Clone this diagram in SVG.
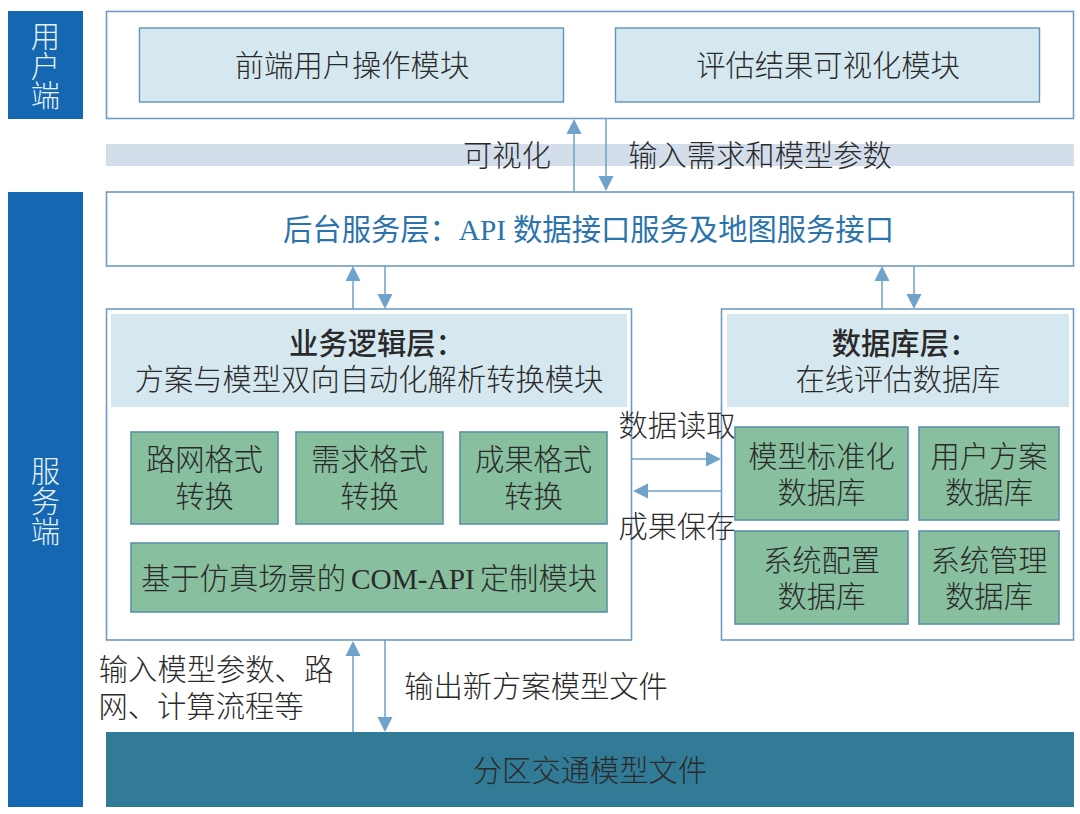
<svg xmlns="http://www.w3.org/2000/svg" width="1080" height="814" viewBox="0 0 1080 814">
<style>
text{font-family:"Noto Sans CJK SC","Noto Sans",sans-serif;font-size:29.3px;fill:#2a2a2a;text-anchor:middle;font-weight:300}
.en{font-family:"Liberation Serif","Noto Sans CJK SC",serif}
.side{fill:#1467b0}
.side text,.w{fill:#e8f1f8}
.frame{fill:#fff;stroke:#6f9cc6;stroke-width:1.6}
.light{fill:#d6e8ef;stroke:#5f94bd;stroke-width:1.4}
.head{fill:#d6e8ef}
.green{fill:#88c09f;stroke:#5b93a8;stroke-width:1.6}
.b{font-weight:500}
.blue{fill:#2b73ad;font-weight:400}
.line{stroke:#6fa3cb;stroke-width:1.5;fill:none}
.ah{fill:#6fa3cb}
</style>
<defs>
<polygon id="up" class="ah" points="0,0 7.5,15 -7.5,15"/>
<polygon id="down" class="ah" points="0,0 7.5,-15 -7.5,-15"/>
</defs>
<rect width="1080" height="814" fill="#fff"/>
<rect id="band" x="106" y="144" width="968" height="22" fill="#d3deea"/>

<g id="side-user"><rect class="side" x="8" y="11" width="75" height="108"/>
<text class="w" x="45.500" y="47">用</text><text class="w" x="45.500" y="77">户</text><text class="w" x="45.500" y="106">端</text></g>
<g id="side-server"><rect class="side" x="8" y="192" width="75" height="615"/>
<text class="w" x="45.500" y="482">服</text><text class="w" x="45.500" y="512">务</text><text class="w" x="45.500" y="542">端</text></g>

<g id="user-layer"><rect class="frame" x="106.500" y="11.500" width="967" height="107"/></g>
<g id="frontend"><rect class="light" x="139.500" y="28" width="424" height="74"/><text x="352" y="76">前端用户操作模块</text></g>
<g id="visual"><rect class="light" x="615.500" y="28" width="424" height="74"/><text x="828" y="76">评估结果可视化模块</text></g>

<g id="backend"><rect class="frame" x="106.500" y="192" width="967" height="74"/>
<text class="blue" x="588.500" y="240"><tspan>后台服务层：</tspan><tspan class="en blue">API</tspan><tspan dx="7">数据接口服务及地图服务接口</tspan></text></g>

<g id="logic"><rect class="frame" x="106.500" y="309" width="525" height="331"/>
<rect class="head" x="111" y="314" width="516" height="93"/>
<text class="b" x="377" y="354">业务逻辑层：</text><text x="369" y="390">方案与模型双向自动化解析转换模块</text></g>
<g id="road"><rect class="green" x="131" y="432" width="147" height="92"/><text x="204.500" y="470">路网格式</text><text x="204.500" y="507">转换</text></g>
<g id="demand"><rect class="green" x="296" y="432" width="147" height="92"/><text x="369.500" y="470">需求格式</text><text x="369.500" y="507">转换</text></g>
<g id="result"><rect class="green" x="460" y="432" width="147" height="92"/><text x="533.500" y="470">成果格式</text><text x="533.500" y="507">转换</text></g>
<g id="com"><rect class="green" x="131" y="543" width="476" height="69"/><text x="369" y="589"><tspan>基于仿真场景的</tspan><tspan class="en" dx="5">COM-API</tspan><tspan dx="5">定制模块</tspan></text></g>

<g id="db"><rect class="frame" x="721.500" y="309" width="352" height="331"/>
<rect class="head" x="727" y="314" width="342" height="93"/>
<text class="b" x="905" y="354">数据库层：</text><text x="898" y="390">在线评估数据库</text></g>
<g id="db1"><rect class="green" x="735" y="427" width="173" height="93"/><text x="821.500" y="467">模型标准化</text><text x="821.500" y="503">数据库</text></g>
<g id="db2"><rect class="green" x="919" y="427" width="140" height="93"/><text x="989" y="467">用户方案</text><text x="989" y="503">数据库</text></g>
<g id="db3"><rect class="green" x="735" y="531" width="173" height="93"/><text x="821.500" y="571">系统配置</text><text x="821.500" y="607">数据库</text></g>
<g id="db4"><rect class="green" x="919" y="531" width="140" height="93"/><text x="989" y="571">系统管理</text><text x="989" y="607">数据库</text></g>

<g id="model-file"><rect x="106" y="732" width="968" height="75" fill="#327b96"/><text x="590" y="781">分区交通模型文件</text></g>

<g id="connectors">
<path class="line" d="M574 134V192M606 119V176M353 281V309M385 266V294M882 281V309M914 266V294M353 656V732M385 640V717M632 459H706M648 491H721"/>
<use href="#up" x="574" y="119"/><use href="#down" x="606" y="191"/>
<use href="#up" x="353" y="266"/><use href="#down" x="385" y="309"/>
<use href="#up" x="882" y="266"/><use href="#down" x="914" y="309"/>
<use href="#up" x="353" y="641"/><use href="#down" x="385" y="732"/>
<polygon class="ah" points="721,459 706,451.500 706,466.500"/>
<polygon class="ah" points="633,491 648,483.500 648,498.500"/>
</g>

<g id="labels">
<text x="507" y="166">可视化</text>
<text x="760" y="166">输入需求和模型参数</text>
<text x="677" y="436">数据读取</text>
<text x="677" y="537">成果保存</text>
<text x="216" y="680">输入模型参数、路</text>
<text x="201" y="717">网、计算流程等</text>
<text x="536" y="697">输出新方案模型文件</text>
</g>
</svg>
